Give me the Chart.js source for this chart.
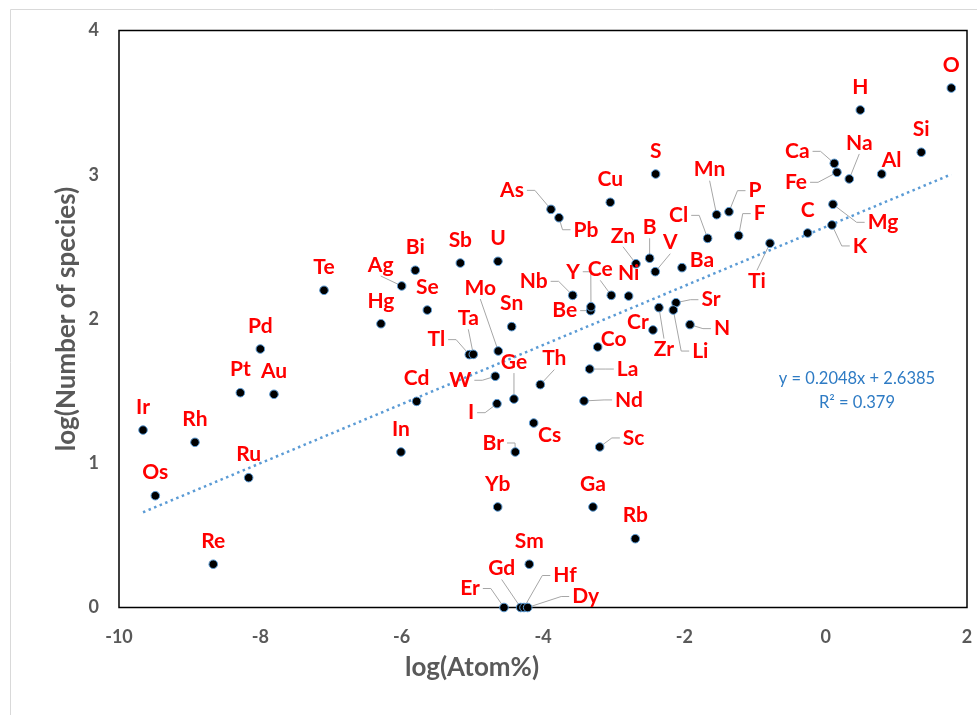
<!DOCTYPE html>
<html>
<head>
<meta charset="utf-8">
<script src="https://cdn.jsdelivr.net/npm/chart.js@4.4.1/dist/chart.umd.min.js"></script>
<style>
  html, body { margin: 0; padding: 0; background: #fff; }
</style>
</head>
<body>
<canvas id="grafico" width="977" height="715"></canvas>
<script>
// Dados
const elementos = ['Ir','Rh','Os','Ru','Re','Pt','Au','Pd',
  'Te','Ag','Bi','Hg','Se','Cd','In',
  'Sb','U','Sn','Tl','Ta','Mo','W','Ge','I','Th','Cs',
  'Nb','Be','Y','Ce','Ni','Zn','B','V','Ba',
  'Cu','S','As','Pb','Mn','P','Cl','F',
  'Sr','Li','Zr','Cr','N','Co','La','Nd','Sc','Br',
  'Yb','Ga','Rb','Sm','Er','Gd','Hf','Dy',
  'Ti','C','K','Mg','Ca','Fe','Na','Al','H','Si','O']

const logAtomo = [-9.66,-8.925,-9.486,-8.165,-8.666,-8.283,-7.807,-8.0,
  -7.099,-6.0,-5.807,-6.293,-5.637,-5.788,-6.01,
  -5.17,-4.637,-4.443,-5.043,-4.986,-4.633,-4.675,-4.411,-4.651,-4.038,-4.132,
  -3.58,-3.325,-3.321,-3.034,-2.788,-2.684,-2.491,-2.411,-2.033,
  -3.048,-2.406,-3.887,-3.774,-1.543,-1.368,-1.67,-1.231,
  -2.118,-2.156,-2.359,-2.444,-1.92,-3.226,-3.34,-3.42,-3.198,-4.392,
  -4.641,-3.293,-2.694,-4.194,-4.552,-4.316,-4.269,-4.217,
  -0.788,-0.255,0.089,0.103,0.122,0.16,0.334,0.792,0.49,1.353,1.778]

const logEspecies = [1.23,1.145,0.775,0.90,0.30,1.489,1.478,1.792,
  2.199,2.229,2.338,1.967,2.062,1.429,1.078,
  2.388,2.40,1.947,1.753,1.755,1.778,1.603,1.445,1.413,1.545,1.279,
  2.164,2.058,2.085,2.164,2.159,2.383,2.421,2.328,2.356,
  2.809,3.005,2.76,2.702,2.723,2.744,2.559,2.578,
  2.113,2.062,2.079,1.924,1.961,1.806,1.653,1.432,1.113,1.078,
  0.697,0.697,0.477,0.30,0,0,0,0,
  2.525,2.596,2.652,2.795,3.079,3.017,2.971,3.005,3.449,3.156,3.601]

// Linha de tendência (equação mostrada no gráfico)
const inclinacao = 0.2048
const intercepto = 2.6385
const textoEquacao = ['y = 0.2048x + 2.6385', 'R² = 0.379']

const ticksX = [-10, -8, -6, -4, -2, 0, 2]
const ticksY = [0, 1, 2, 3, 4]

// Posição dos rótulos em px relativos ao ponto (padrão: acima), 'h'/'v' = linha guia
const deslocamento = {
  Ag: [-21, -21, 'v'], Tl: [-33, -15, 'h'], Ta: [-5, -36, 'v'], Mo: [-18, -63, 'v'],
  W: [-35, 4, 'h'], Ge: [0, -37, 'v'], I: [-26, 9, 'h'], Th: [14, -26, 'v'], Cs: [16, 12],
  Nb: [-39, -14, 'h'], Be: [-26, 0, 'h'], Y: [-18, -35, 'h'], Ce: [-11, -26, 'v'],
  Zn: [-13, -28, 'v'], B: [0, -31, 'v'], V: [15, -29, 'v'], Ba: [20, -7],
  As: [-39, -19, 'h'], Pb: [27, 12, 'h'], Mn: [-7, -45, 'v'], P: [26, -21, 'h'],
  Cl: [-29, -23, 'h'], F: [21, -22, 'h'], Ti: [-13, 38, 'v'], K: [28, 21, 'h'],
  Mg: [50, 18, 'h'], Ca: [-37, -12, 'h'], Fe: [-41, 10, 'h'], Na: [10, -36, 'v'],
  Al: [10, -14], Sr: [35, -3, 'h'], N: [32, 4, 'h'], Li: [27, 41, 'h'], Zr: [5, 42, 'v'],
  Cr: [-15, -8], Co: [16, -8], La: [38, 0, 'h'], Nd: [45, -1, 'h'], Sc: [34, -9, 'h'],
  Br: [-22, -9, 'h'], Er: [-34, -19, 'h'], Gd: [-19, -39, 'v'], Hf: [41, -32, 'h'],
  Dy: [58, -11, 'h']
}

const pontos = elementos.map((e, i) => ({ x: logAtomo[i], y: logEspecies[i] }))
const xMin = Math.min(...logAtomo)
const xMax = Math.max(...logAtomo)
const tendencia = [
  { x: xMin, y: inclinacao * xMin + intercepto },
  { x: xMax, y: inclinacao * xMax + intercepto }
]

const corTexto = '#595959'
const fonteRotulo = 'bold 21px Lato'

//Moldura da área do gráfico e borda externa
const moldura = {
  id: 'moldura',
  beforeDraw(chart) {
    const ctx = chart.ctx
    ctx.save()
    ctx.strokeStyle = '#D9D9D9'
    ctx.lineWidth = 1
    ctx.beginPath()
    ctx.moveTo(10.5, 715); ctx.lineTo(10.5, 9.5); ctx.lineTo(977, 9.5)
    ctx.stroke()
    ctx.restore()
  },
  beforeDatasetsDraw(chart) {
    const ctx = chart.ctx, a = chart.chartArea
    ctx.save()
    ctx.strokeStyle = '#000'
    ctx.lineWidth = 1.5
    ctx.strokeRect(a.left, a.top, a.right - a.left, a.bottom - a.top)

    // linhas guia dos rótulos
    const sx = chart.scales.x, sy = chart.scales.y
    ctx.font = fonteRotulo
    ctx.strokeStyle = '#A6A6A6'
    ctx.lineWidth = 1
    elementos.forEach((nome, i) => {
      const o = deslocamento[nome]
      if (!o || !o[2]) return
      const px = sx.getPixelForValue(logAtomo[i])
      const py = sy.getPixelForValue(logEspecies[i])
      const lx = px + o[0], ly = py + o[1]
      ctx.beginPath()
      let qx, qy
      if (o[2] === 'h') {
        const w = ctx.measureText(nome).width
        const s = o[0] < 0 ? 1 : -1
        const ax = lx + s * (w / 2 + 3)
        qx = ax + s * 8; qy = ly
        ctx.moveTo(ax, ly); ctx.lineTo(qx, qy)
      } else {
        const s = o[1] < 0 ? 1 : -1
        qx = lx; qy = ly + s * 11
        ctx.moveTo(qx, qy)
      }
      const d = Math.hypot(px - qx, py - qy) || 1
      ctx.lineTo(px - (px - qx) / d * 3, py - (py - qy) / d * 3)
      ctx.stroke()
    })
    ctx.restore()
  },
  afterDatasetsDraw(chart) {
    const ctx = chart.ctx, a = chart.chartArea
    const sx = chart.scales.x, sy = chart.scales.y
    ctx.save()
    // rótulos dos elementos
    ctx.font = fonteRotulo
    ctx.fillStyle = '#FF0000'
    ctx.textAlign = 'center'
    ctx.textBaseline = 'middle'
    elementos.forEach((nome, i) => {
      const o = deslocamento[nome] || [0, -23]
      const px = sx.getPixelForValue(logAtomo[i])
      const py = sy.getPixelForValue(logEspecies[i])
      ctx.fillText(nome, px + o[0], py + o[1])
    })

    // equação da tendência
    ctx.font = '16.5px Lato'
    ctx.fillStyle = '#2E7BC4'
    const ex = sx.getPixelForValue(0.443), ey = sy.getPixelForValue(1.584)
    ctx.fillText(textoEquacao[0], ex, ey)
    ctx.fillText(textoEquacao[1], ex, ey + 24)

    // títulos dos eixos
    ctx.font = 'bold 26px Lato'
    ctx.fillStyle = corTexto
    ctx.fillText('log(Atom%)', 472, 668)
    ctx.translate(67, (a.top + a.bottom) / 2)
    ctx.rotate(-Math.PI / 2)
    ctx.fillText('log(Number of species)', 0, 0)
    ctx.restore()
  }
}

const ctx = document.getElementById('grafico')

let grafico = new Chart(ctx, {
  type: 'scatter',
  data: {
    datasets: [{
      label: 'Elementos',
      data: pontos,
      pointRadius: 4.3,
      pointBackgroundColor: '#000',
      pointBorderColor: '#5B9BD5',
      pointBorderWidth: 1,
      clip: false,
      order: 1
    }, {
      label: 'Tendência',
      type: 'line',
      data: tendencia,
      showLine: true,
      pointRadius: 0,
      borderColor: '#5B9BD5',
      borderWidth: 2.5,
      borderDash: [2.5, 3.5],
      fill: false,
      order: 2
    }]
  },
  options: {
    responsive: false,
    animation: false,
    devicePixelRatio: 1,
    layout: { padding: { top: 30.5, right: 10, left: 0, bottom: 0 } },
    plugins: { legend: { display: false }, tooltip: { enabled: false } },
    scales: {
      x: {
        type: 'linear', min: -10, max: 2,
        afterBuildTicks: s => { s.ticks = ticksX.map(v => ({ value: v })) },
        afterFit: s => { s.height = 107.5; s.paddingLeft = 0; s.paddingRight = 0 },
        grid: { display: false, drawTicks: false },
        border: { display: false },
        ticks: { padding: 19, color: corTexto, font: { family: 'Lato', size: 18, weight: 'bold' } }
      },
      y: {
        type: 'linear', min: 0, max: 4,
        afterBuildTicks: s => { s.ticks = ticksY.map(v => ({ value: v })) },
        afterFit: s => { s.width = 119; s.paddingTop = 0; s.paddingBottom = 0 },
        grid: { display: false, drawTicks: false },
        border: { display: false },
        ticks: { padding: 20, color: corTexto, font: { family: 'Lato', size: 18, weight: 'bold' } }
      }
    }
  },
  plugins: [moldura]
})
</script>
</body>
</html>
